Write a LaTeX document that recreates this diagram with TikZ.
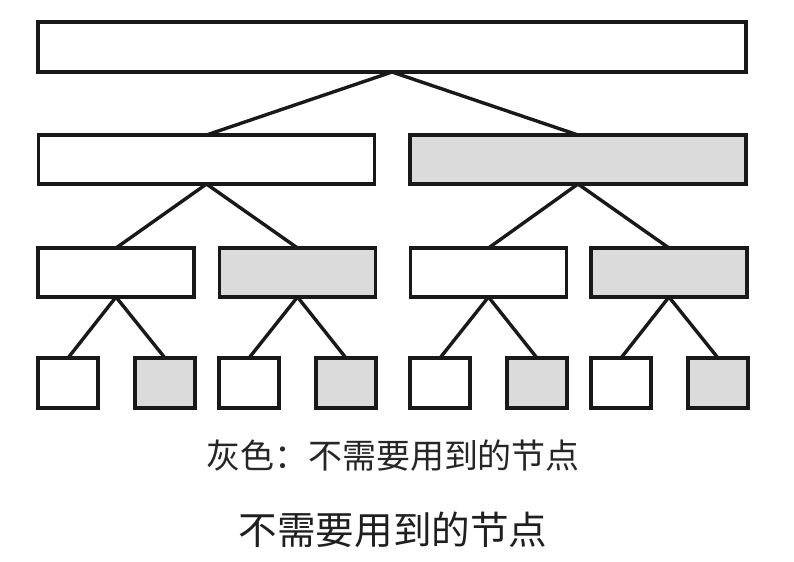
\documentclass[tikz,border=0pt]{standalone}
\usepackage{fontspec}
\setmainfont{Noto Sans CJK SC}
\usepackage{tikz}
\usetikzlibrary{arrows}

\tikzset{
  box/.style={draw=black!90, line width=1.7pt, inner sep=0pt, outer sep=0pt},
  graybox/.style={box, fill=black!14},
  link/.style={draw=black!90, line width=1.7pt}
}

\begin{document}
\begin{tikzpicture}[x=0.5pt,y=-0.5pt]
\useasboundingbox (0,0) rectangle (794,562);
% root
\node[box, minimum width=354pt, minimum height=25pt] (root) at (392,47) {};
% level 2
\node[box, minimum width=168pt, minimum height=24.5pt] (a) at (206.5,159.5) {};
\node[graybox, minimum width=168pt, minimum height=24.5pt] (b) at (578,159.5) {};
% level 3
\node[box, minimum width=78pt, minimum height=24.5pt] (aa) at (116,272.5) {};
\node[graybox, minimum width=78pt, minimum height=24.5pt] (ab) at (297.5,272.5) {};
\node[box, minimum width=78pt, minimum height=24.5pt] (ba) at (488.5,272.5) {};
\node[graybox, minimum width=78pt, minimum height=24.5pt] (bb) at (669,272.5) {};
% leaves
\node[box, minimum width=30pt, minimum height=25pt] (aaa) at (68,383) {};
\node[graybox, minimum width=30pt, minimum height=25pt] (aab) at (165,383) {};
\node[box, minimum width=30pt, minimum height=25pt] (aba) at (249,383) {};
\node[graybox, minimum width=30pt, minimum height=25pt] (abb) at (346,383) {};
\node[box, minimum width=30pt, minimum height=25pt] (baa) at (440,383) {};
\node[graybox, minimum width=30pt, minimum height=25pt] (bab) at (537,383) {};
\node[box, minimum width=30pt, minimum height=25pt] (bba) at (621,383) {};
\node[graybox, minimum width=30pt, minimum height=25pt] (bbb) at (718,383) {};
% links
\draw[link] (root.south) -- (a.north);
\draw[link] (root.south) -- (b.north);
\draw[link] (a.south) -- (aa.north);
\draw[link] (a.south) -- (ab.north);
\draw[link] (b.south) -- (ba.north);
\draw[link] (b.south) -- (bb.north);
\draw[link] (aa.south) -- (aaa.north);
\draw[link] (aa.south) -- (aab.north);
\draw[link] (ab.south) -- (aba.north);
\draw[link] (ab.south) -- (abb.north);
\draw[link] (ba.south) -- (baa.north);
\draw[link] (ba.south) -- (bab.north);
\draw[link] (bb.south) -- (bba.north);
\draw[link] (bb.south) -- (bbb.north);
% captions
\node[font=\fontsize{17pt}{19pt}\selectfont, text=black!85] (note) at (393,456) {灰色：不需要用到的节点};
\node[font=\fontsize{19.3pt}{21pt}\selectfont, text=black!88] (title) at (393,530) {不需要用到的节点};
\end{tikzpicture}
\end{document}
